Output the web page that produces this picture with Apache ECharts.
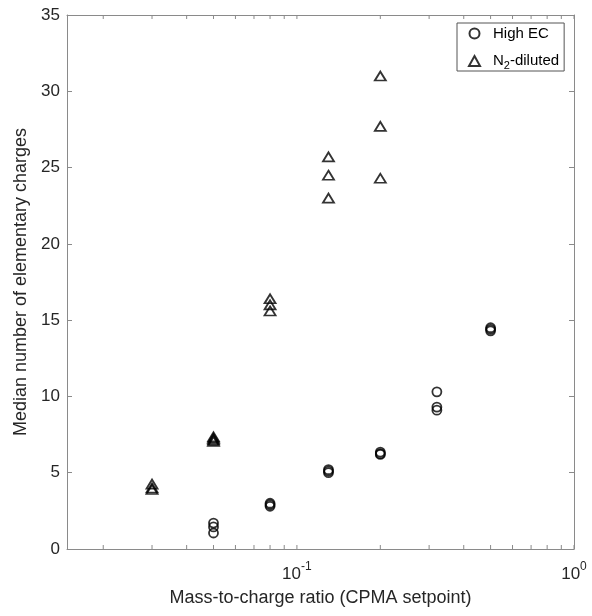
<!DOCTYPE html>
<html>
<head>
<meta charset="utf-8">
<script src="https://cdn.jsdelivr.net/npm/echarts@6/dist/echarts.min.js"></script>
<style>
  html, body { margin: 0; padding: 0; background: #fff; }
  #chart { width: 592px; height: 616px; }
</style>
</head>
<body>
<div id="chart"></div>
<script>
// [mass-to-charge ratio, median number of charges]
const highEC = [
  [0.05, 1.7], [0.05, 1.45], [0.05, 1.05],
  [0.08, 3.0], [0.08, 2.9], [0.08, 2.8],
  [0.13, 5.2], [0.13, 5.1], [0.13, 5.0],
  [0.2, 6.35], [0.2, 6.25], [0.2, 6.2],
  [0.32, 10.3], [0.32, 9.3], [0.32, 9.1],
  [0.5, 14.5], [0.5, 14.4], [0.5, 14.3]
];
const n2Diluted = [
  [0.03, 4.25], [0.03, 4.0], [0.03, 3.9],
  [0.05, 7.35], [0.05, 7.25], [0.05, 7.15], [0.05, 7.05],
  [0.08, 16.4], [0.08, 16.0], [0.08, 15.6],
  [0.13, 25.7], [0.13, 24.5], [0.13, 23.0],
  [0.2, 31.0], [0.2, 27.7], [0.2, 24.3]
];
// log-axis tick positions (major + minor), MATLAB style
const xTicks = [0.02, 0.03, 0.04, 0.05, 0.06, 0.07, 0.08, 0.09, 0.1,
  0.2, 0.3, 0.4, 0.5, 0.6, 0.7, 0.8, 0.9, 1];

const FONT = "Liberation Sans";
const AXIS_COLOR = "#8a8a8a";
const TEXT_COLOR = "#262626";

const chart = echarts.init(document.getElementById("chart"));

const markerStyle = {
  color: "transparent",
  borderColor: "#000",
  borderWidth: 1.8,
};

const isPow10 = (v) => Math.abs(Math.log10(v) - Math.round(Math.log10(v))) < 1e-6;

chart.setOption({
  animation: false,
  textStyle: { fontFamily: FONT },
  grid: { left: 67, right: 18, top: 15, bottom: 67 },
  legend: {
    orient: "vertical",
    left: 457,
    top: 23,
    padding: [3, 5, 0, 11],
    itemGap: 10,
    itemWidth: 11,
    itemHeight: 10,
    backgroundColor: "#fff",
    borderColor: "#555",
    borderWidth: 1,
    borderRadius: 0,
    data: ["High EC", "N2-diluted"],
    formatter: (name) =>
      name === "N2-diluted" ? "{t|N}{s|2}{t|-diluted}" : "{t|" + name + "}",
    textStyle: {
      color: "#000",
      padding: [0, 0, 0, 8],
      rich: {
        t: { fontSize: 15, fontFamily: FONT, color: "#000", lineHeight: 20, verticalAlign: "middle" },
        s: { fontSize: 11, fontFamily: FONT, color: "#000", lineHeight: 20, verticalAlign: "middle", padding: [9, 0, 0, 0] },
      },
    },
  },
  xAxis: [
    {
      type: "log",
      logBase: 10,
      min: 0.0148,
      max: 1,
      splitNumber: 2,
      name: "Mass-to-charge ratio (CPMA setpoint)",
      nameLocation: "middle",
      nameGap: 40,
      nameTextStyle: { fontSize: 18, color: TEXT_COLOR, fontFamily: FONT },
      axisLine: { show: true, lineStyle: { color: AXIS_COLOR, width: 1 } },
      axisTick: { show: false },
      splitLine: { show: false },
      minorTick: { show: false },
      axisLabel: {
        margin: 12,
        showMinLabel: false,
        formatter: (v) => {
          if (!isPow10(v)) return "";
          return "{b|10}{s|" + Math.round(Math.log10(v)) + "}";
        },
        rich: {
          b: { fontSize: 17, color: TEXT_COLOR, fontFamily: FONT, lineHeight: 22, verticalAlign: "bottom" },
          s: { fontSize: 12, color: TEXT_COLOR, fontFamily: FONT, lineHeight: 22, verticalAlign: "top" },
        },
      },
    },
    {
      type: "log",
      logBase: 10,
      min: 0.0148,
      max: 1,
      position: "top",
      axisLine: { show: true, onZero: false, lineStyle: { color: AXIS_COLOR, width: 1 } },
      axisTick: { show: false },
      axisLabel: { show: false },
      splitLine: { show: false },
    },
  ],
  yAxis: [
    {
      type: "value",
      min: 0,
      max: 35,
      interval: 5,
      name: "Median number of elementary charges",
      nameLocation: "middle",
      nameGap: 36,
      nameTextStyle: { fontSize: 18, color: TEXT_COLOR, fontFamily: FONT },
      axisLine: { show: true, lineStyle: { color: AXIS_COLOR, width: 1 } },
      axisTick: { show: true, inside: true, length: 5, lineStyle: { color: AXIS_COLOR } },
      axisLabel: { fontSize: 17, color: TEXT_COLOR, margin: 7, fontFamily: FONT },
      splitLine: { show: false },
    },
    {
      type: "value",
      min: 0,
      max: 35,
      interval: 5,
      position: "right",
      axisLine: { show: true, lineStyle: { color: AXIS_COLOR, width: 1 } },
      axisTick: { show: true, inside: true, length: 5, lineStyle: { color: AXIS_COLOR } },
      axisLabel: { show: false },
      splitLine: { show: false },
    },
  ],
  series: [
    {
      name: "ticks",
      type: "custom",
      silent: true,
      clip: false,
      data: xTicks.map((v) => [v, 0]),
      renderItem: (params, api) => {
        const x = api.coord([api.value(0), 0])[0];
        const cs = params.coordSys;
        const len = 4;
        const style = { stroke: AXIS_COLOR, lineWidth: 1 };
        return {
          type: "group",
          children: [
            { type: "line", shape: { x1: x, y1: cs.y + cs.height, x2: x, y2: cs.y + cs.height - len }, style },
            { type: "line", shape: { x1: x, y1: cs.y, x2: x, y2: cs.y + len }, style },
          ],
        };
      },
    },
    {
      name: "High EC",
      type: "scatter",
      symbol: "circle",
      symbolSize: 9,
      itemStyle: markerStyle,
      data: highEC,
    },
    {
      name: "N2-diluted",
      type: "scatter",
      symbol: "triangle",
      symbolSize: [11, 9],
      itemStyle: markerStyle,
      data: n2Diluted,
    },
  ],
});
</script>
</body>
</html>
